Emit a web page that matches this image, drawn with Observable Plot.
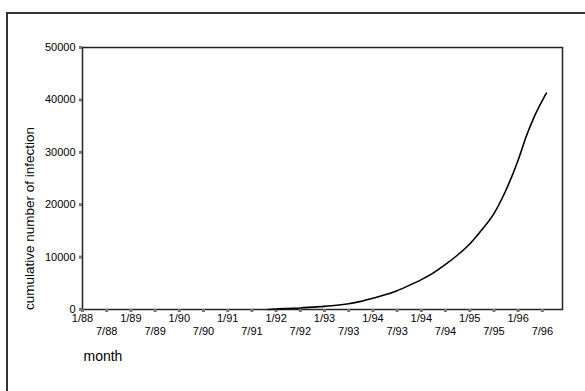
<!DOCTYPE html>
<html>
<head>
<meta charset="utf-8">
<script src="https://cdn.jsdelivr.net/npm/d3@7"></script>
<script src="https://cdn.jsdelivr.net/npm/@observablehq/plot@0.6"></script>
<style>
  html, body { margin: 0; padding: 0; background: #fff; }
  #wrap { position: relative; width: 585px; height: 391px; overflow: hidden; }
  #border { position: absolute; left: 6px; top: 12px; width: 700px; height: 500px;
            border-left: 2px solid #333; border-top: 2px solid #333; }
  #chart { position: absolute; left: 0; top: 0; }
</style>
</head>
<body>
<div id="wrap"><div id="border"></div><div id="chart"></div></div>
<script>
// month index (0 = 1/88) and cumulative number of infection
const monthIndex = [46, 48, 51, 54, 57, 60, 63, 66, 69, 72, 75, 78, 81, 84, 87, 90, 93, 96, 99, 102, 105, 108, 110, 112, 115];
const cumulative = [0, 100, 200, 300, 450, 600, 800, 1100, 1550, 2150, 2800, 3600, 4600, 5700, 7000, 8600, 10400, 12500, 15200, 18300, 22800, 28500, 33000, 36800, 41300];

// tick labels as printed (every 6 months)
const tickLabels = ["1/88","7/88","1/89","7/89","1/90","7/90","1/91","7/91","1/92","7/92",
                    "1/93","7/93","1/94","7/93","1/94","7/94","1/95","7/95","1/96","7/96"];
const yTicks = [0, 10000, 20000, 30000, 40000, 50000];

const data = monthIndex.map((m, i) => ({m, v: cumulative[i]}));
const tickPos = tickLabels.map((_, i) => i * 6);
const topRow = tickPos.filter((_, i) => i % 2 === 0);
const bottomRow = tickPos.filter((_, i) => i % 2 === 1);
const fmt = d => tickLabels[d / 6];

const chart = Plot.plot({
  width: 585,
  height: 391,
  marginLeft: 82,
  marginTop: 47,
  marginRight: 23,
  marginBottom: 82,
  style: {fontFamily: "'Liberation Sans', Arial, sans-serif", fontSize: "11px", color: "#000", background: "transparent"},
  x: {domain: [0, 119]},
  y: {domain: [0, 50000]},
  marks: [
    Plot.frame({stroke: "#222", strokeWidth: 1.5}),
    Plot.axisY({ticks: yTicks, tickFormat: d => String(d), tickSize: 3, tickPadding: 4,
                stroke: "#777", strokeWidth: 3, fill: "#000", fontSize: 11, label: null}),
    Plot.axisX({ticks: topRow, tickFormat: fmt, tickSize: 3, tickPadding: 2,
                stroke: "#777", strokeWidth: 3, fill: "#000", fontSize: 11, label: null}),
    Plot.axisX({ticks: bottomRow, tickFormat: fmt, tickSize: 3, tickPadding: 15,
                stroke: "#777", strokeWidth: 3, fill: "#000", fontSize: 11, label: null}),
    Plot.line(data, {x: "m", y: "v", stroke: "#000", strokeWidth: 1.6, curve: "monotone-x"}),
    Plot.text(["cumulative number of infection"], {frameAnchor: "left", textAnchor: "middle", dx: -53, dy: 40, rotate: -90,
                fontSize: 13.5, fill: "#000"}),
    Plot.text(["month"], {frameAnchor: "bottom-left", textAnchor: "start", dx: 1, dy: 51,
                fontSize: 14, fill: "#000"})
  ]
});
document.getElementById("chart").appendChild(chart);
</script>
</body>
</html>
